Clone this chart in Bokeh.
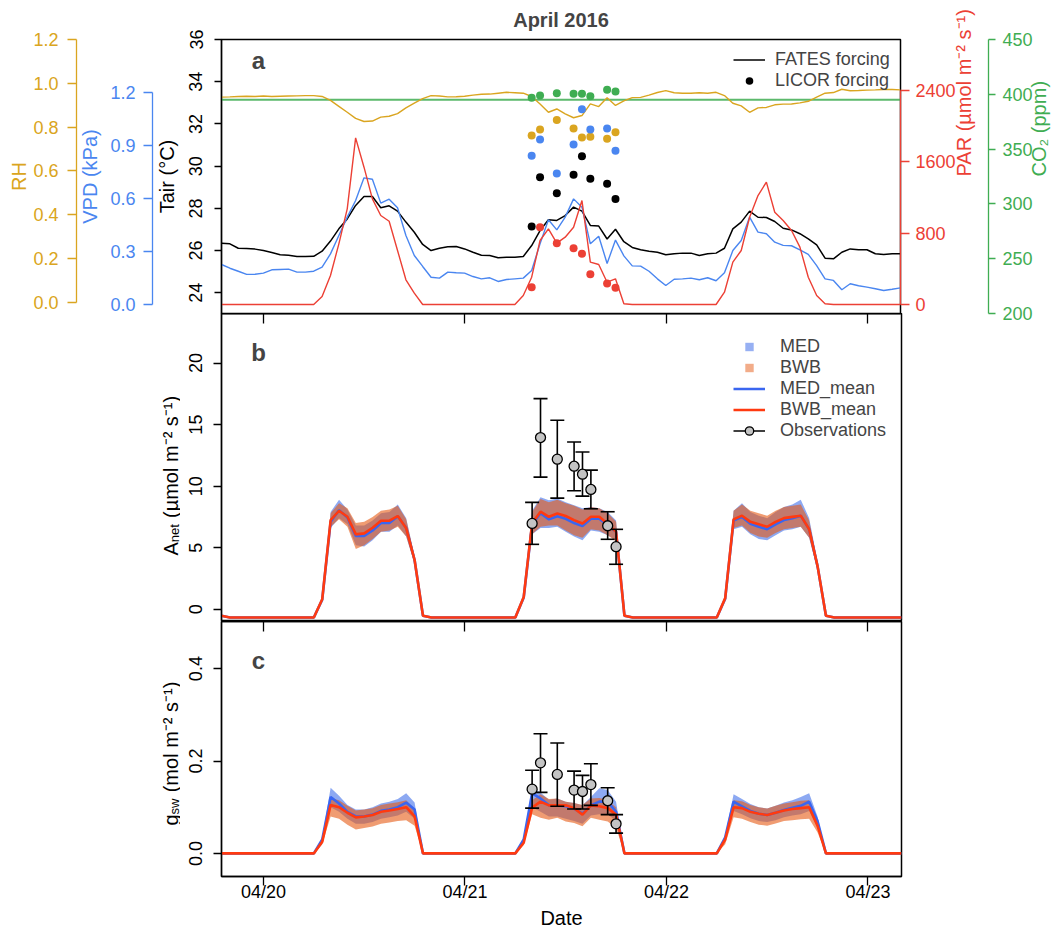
import math
from bokeh.plotting import figure
from bokeh.models import (Range1d, LinearAxis, FixedTicker, Legend, LegendItem, Label,
                          ColumnDataSource, NumeralTickFormatter)
from bokeh.layouts import column, row
from bokeh.embed import file_html
from bokeh.resources import INLINE

FONT = "Liberation Sans"
GOLD = "#daa520"
BLUE = "#4a86f0"
RED = "#ec4035"
GREEN = "#3fad52"
MED_LINE = "#3a66f0"
BWB_LINE = "#ff3a10"
MED_FILL = "#2f62e8"
BWB_FILL = "#e65a14"
NAN = float("nan")

# ---------------- data ----------------
# hours since 2016-04-20 00:00
hours = list(range(-5, 77))
tick_hours = [0, 24, 48, 72]
tick_labels = ["04/20", "04/21", "04/22", "04/23"]

tair = [26.35, 26.32, 26.11, 26.10, 26.07, 26.00, 25.91, 25.80, 25.78, 25.72, 25.72, 25.73,
        25.97, 26.45, 27.03, 27.50, 28.14, 28.56, 28.56, 28.03, 28.12, 27.87, 27.35, 26.87,
        26.29, 26.00, 26.11, 26.18, 26.19, 26.08, 25.92, 25.78, 25.77, 25.66, 25.69, 25.69,
        25.72, 26.24, 26.95, 27.46, 27.43, 27.66, 28.06, 27.87, 27.19, 27.16, 26.55, 27.01,
        26.42, 26.15, 26.04, 25.97, 25.92, 25.80, 25.85, 25.88, 25.88, 25.77, 25.85, 25.88,
        26.11, 27.03, 27.35, 27.87, 27.58, 27.57, 27.38, 27.06, 26.98, 26.80, 26.56, 26.27,
        25.64, 25.61, 25.92, 26.08, 26.04, 26.04, 25.85, 25.82, 25.85, 25.85]
vpd = [0.226, 0.205, 0.188, 0.170, 0.171, 0.177, 0.196, 0.198, 0.200, 0.183, 0.183, 0.188,
       0.211, 0.286, 0.390, 0.494, 0.588, 0.716, 0.708, 0.573, 0.595, 0.547, 0.390, 0.277,
       0.215, 0.154, 0.149, 0.183, 0.179, 0.177, 0.158, 0.145, 0.151, 0.130, 0.141, 0.145,
       0.149, 0.192, 0.343, 0.479, 0.422, 0.494, 0.597, 0.550, 0.343, 0.386, 0.232, 0.364,
       0.275, 0.218, 0.217, 0.188, 0.145, 0.107, 0.143, 0.145, 0.149, 0.140, 0.151, 0.134,
       0.179, 0.305, 0.362, 0.494, 0.409, 0.400, 0.352, 0.334, 0.332, 0.309, 0.283, 0.220,
       0.145, 0.136, 0.083, 0.117, 0.106, 0.098, 0.089, 0.079, 0.086, 0.094]
par = [0, 0, 0, 0, 0, 0, 0, 0, 0, 0, 0, 0,
       90, 325, 680, 1073, 1869, 1540, 1185, 998, 934, 606, 277, 127,
       0, 0, 0, 0, 0, 0, 0, 0, 0, 0, 0, 0,
       101, 306, 718, 849, 688, 755, 867, 1166, 475, 449, 250, 288,
       8, 0, 0, 0, 0, 0, 0, 0, 0, 0, 0, 0,
       138, 475, 606, 979, 1222, 1372, 1035, 942, 830, 643, 306, 101,
       8, 0, 0, 0, 0, 0, 0, 0, 0, 0]
rh = [0.937, 0.938, 0.940, 0.941, 0.940, 0.942, 0.940, 0.941, 0.942, 0.943, 0.944, 0.944,
      0.940, 0.922, 0.895, 0.868, 0.840, 0.826, 0.828, 0.846, 0.850, 0.862, 0.888, 0.910,
      0.930, 0.944, 0.942, 0.938, 0.939, 0.941, 0.946, 0.950, 0.951, 0.955, 0.959, 0.957,
      0.955, 0.940, 0.906, 0.868, 0.883, 0.861, 0.843, 0.853, 0.906, 0.894, 0.934, 0.899,
      0.920, 0.935, 0.936, 0.946, 0.958, 0.967, 0.957, 0.955, 0.955, 0.957, 0.955, 0.959,
      0.944, 0.909, 0.897, 0.868, 0.888, 0.890, 0.902, 0.905, 0.906, 0.911, 0.918, 0.937,
      0.955, 0.958, 0.973, 0.966, 0.967, 0.969, 0.970, 0.972, 0.972, 0.970]
co2 = [395.0, 395.0, 395.0, 395.0, 395.0, 395.0, 395.0, 395.0, 395.0, 395.0, 395.0, 395.0,
       395.0, 395.0, 395.0, 395.0, 395.0, 395.0, 395.0, 395.0, 395.0, 395.0, 395.0, 395.0,
       395.0, 395.0, 395.0, 395.0, 395.0, 395.0, 395.0, 395.0, 395.0, 395.0, 395.0, 395.0,
       395.0, 395.0, 395.0, 395.0, 395.0, 395.0, 395.0, 395.0, 395.0, 395.0, 395.0, 395.0,
       395.0, 395.0, 395.0, 395.0, 395.0, 395.0, 395.0, 395.0, 395.0, 395.0, 395.0, 395.0,
       395.0, 395.0, 395.0, 395.0, 395.0, 395.0, 395.0, 395.0, 395.0, 395.0, 395.0, 395.0,
       395.0, 395.0, 395.0, 395.0, 395.0, 395.0, 395.0, 395.0, 395.0, 395.0]

licor_hours = [32, 33, 35, 37, 38, 39, 41, 42]
licor_tair = [27.14, 29.48, 28.72, 29.59, 30.47, 29.40, 29.17, 28.45]
licor_rh = [0.762, 0.789, 0.833, 0.794, 0.753, 0.756, 0.747, 0.777]
licor_vpd = [0.841, 0.932, 0.741, 0.904, 1.104, 0.989, 0.995, 0.869]
licor_par = [194, 867, 688, 632, 569, 340, 235, 188]
licor_co2 = [396.8, 398.9, 401.0, 400.5, 400.5, 398.3, 404.1, 402.6]

anet_bwb_mean = [-0.54, -0.68, -0.68, -0.68, -0.68, -0.68, -0.68, -0.68, -0.68, -0.68, -0.68, -0.68,
                 0.81, 7.24, 8.00, 7.51, 6.08, 6.16, 6.62, 7.19, 7.19, 7.57, 6.57, 4.00,
                 -0.54, -0.68, -0.68, -0.68, -0.68, -0.68, -0.68, -0.68, -0.68, -0.68, -0.68, -0.68,
                 1.00, 7.00, 7.92, 7.51, 7.78, 7.57, 7.24, 6.97, 7.51, 7.51, 6.92, 6.30,
                 -0.54, -0.68, -0.68, -0.68, -0.68, -0.68, -0.68, -0.68, -0.68, -0.68, -0.68, -0.68,
                 0.90, 7.30, 7.60, 7.10, 6.90, 6.70, 7.10, 7.40, 7.50, 7.60, 6.50, 3.50,
                 -0.54, -0.68, -0.68, -0.68, -0.68, -0.68, -0.68, -0.68, -0.68, -0.68]
anet_bwb_lo = [-0.54, -0.68, -0.68, -0.68, -0.68, -0.68, -0.68, -0.68, -0.68, -0.68, -0.68, -0.68,
               0.70, 6.70, 7.30, 6.70, 4.90, 5.20, 5.70, 6.30, 6.40, 6.70, 5.90, 3.70,
               -0.54, -0.68, -0.68, -0.68, -0.68, -0.68, -0.68, -0.68, -0.68, -0.68, -0.68, -0.68,
               0.90, 6.10, 6.70, 6.80, 6.80, 6.40, 6.00, 5.80, 6.50, 6.40, 6.00, 5.50,
               -0.54, -0.68, -0.68, -0.68, -0.68, -0.68, -0.68, -0.68, -0.68, -0.68, -0.68, -0.68,
               0.80, 6.60, 6.80, 6.20, 5.90, 5.80, 6.20, 6.50, 6.60, 6.70, 5.80, 3.20,
               -0.54, -0.68, -0.68, -0.68, -0.68, -0.68, -0.68, -0.68, -0.68, -0.68]
anet_bwb_hi = [-0.54, -0.68, -0.68, -0.68, -0.68, -0.68, -0.68, -0.68, -0.68, -0.68, -0.68, -0.68,
               0.90, 7.80, 8.60, 8.20, 7.00, 7.10, 7.50, 8.00, 8.10, 8.40, 7.30, 4.30,
               -0.54, -0.68, -0.68, -0.68, -0.68, -0.68, -0.68, -0.68, -0.68, -0.68, -0.68, -0.68,
               1.10, 7.90, 8.95, 8.70, 8.90, 8.60, 8.40, 8.10, 8.30, 8.20, 7.80, 7.10,
               -0.54, -0.68, -0.68, -0.68, -0.68, -0.68, -0.68, -0.68, -0.68, -0.68, -0.68, -0.68,
               1.00, 8.00, 8.50, 8.00, 7.80, 7.60, 8.00, 8.30, 8.40, 8.50, 7.20, 3.80,
               -0.54, -0.68, -0.68, -0.68, -0.68, -0.68, -0.68, -0.68, -0.68, -0.68]
anet_med_mean = [-0.54, -0.68, -0.68, -0.68, -0.68, -0.68, -0.68, -0.68, -0.68, -0.68, -0.68, -0.68,
                 0.78, 7.10, 8.05, 7.45, 5.95, 5.95, 6.40, 7.00, 7.00, 7.55, 6.60, 4.00,
                 -0.54, -0.68, -0.68, -0.68, -0.68, -0.68, -0.68, -0.68, -0.68, -0.68, -0.68, -0.68,
                 0.95, 6.90, 7.80, 7.30, 7.55, 7.35, 7.00, 6.75, 7.35, 7.35, 6.85, 6.30,
                 -0.54, -0.68, -0.68, -0.68, -0.68, -0.68, -0.68, -0.68, -0.68, -0.68, -0.68, -0.68,
                 0.85, 7.20, 7.50, 6.95, 6.70, 6.50, 6.90, 7.25, 7.40, 7.60, 6.50, 3.50,
                 -0.54, -0.68, -0.68, -0.68, -0.68, -0.68, -0.68, -0.68, -0.68, -0.68]
anet_med_lo = [-0.54, -0.68, -0.68, -0.68, -0.68, -0.68, -0.68, -0.68, -0.68, -0.68, -0.68, -0.68,
               0.70, 6.60, 7.40, 6.90, 5.20, 5.10, 5.60, 6.30, 6.30, 6.80, 5.90, 3.70,
               -0.54, -0.68, -0.68, -0.68, -0.68, -0.68, -0.68, -0.68, -0.68, -0.68, -0.68, -0.68,
               0.80, 6.10, 6.60, 6.60, 6.70, 6.30, 5.90, 5.60, 6.40, 6.30, 6.00, 5.60,
               -0.54, -0.68, -0.68, -0.68, -0.68, -0.68, -0.68, -0.68, -0.68, -0.68, -0.68, -0.68,
               0.70, 6.50, 6.70, 6.10, 5.70, 5.60, 6.00, 6.40, 6.50, 6.70, 5.80, 3.10,
               -0.54, -0.68, -0.68, -0.68, -0.68, -0.68, -0.68, -0.68, -0.68, -0.68]
anet_med_hi = [-0.54, -0.68, -0.68, -0.68, -0.68, -0.68, -0.68, -0.68, -0.68, -0.68, -0.68, -0.68,
               0.90, 7.90, 8.90, 8.10, 6.80, 6.80, 7.20, 7.80, 7.90, 8.50, 7.40, 4.30,
               -0.54, -0.68, -0.68, -0.68, -0.68, -0.68, -0.68, -0.68, -0.68, -0.68, -0.68, -0.68,
               1.10, 8.00, 9.10, 8.85, 9.00, 8.70, 8.45, 8.20, 8.30, 8.20, 7.90, 7.20,
               -0.54, -0.68, -0.68, -0.68, -0.68, -0.68, -0.68, -0.68, -0.68, -0.68, -0.68, -0.68,
               1.00, 8.00, 8.60, 7.90, 7.60, 7.40, 7.90, 8.30, 8.50, 8.90, 7.40, 3.90,
               -0.54, -0.68, -0.68, -0.68, -0.68, -0.68, -0.68, -0.68, -0.68, -0.68]

gsw_bwb_mean = [0, 0, 0, 0, 0, 0, 0, 0, 0, 0, 0, 0,
                0.025, 0.105, 0.100, 0.088, 0.078, 0.080, 0.083, 0.090, 0.093, 0.096, 0.100, 0.080,
                0, 0, 0, 0, 0, 0, 0, 0, 0, 0, 0, 0,
                0.023, 0.099, 0.112, 0.104, 0.104, 0.104, 0.098, 0.084, 0.104, 0.102, 0.098, 0.084,
                0, 0, 0, 0, 0, 0, 0, 0, 0, 0, 0, 0,
                0.030, 0.100, 0.098, 0.090, 0.086, 0.083, 0.088, 0.093, 0.096, 0.098, 0.100, 0.060,
                0, 0, 0, 0, 0, 0, 0, 0, 0, 0]
gsw_bwb_lo = [0, 0, 0, 0, 0, 0, 0, 0, 0, 0, 0, 0,
              0.020, 0.080, 0.075, 0.062, 0.052, 0.055, 0.058, 0.064, 0.067, 0.070, 0.072, 0.060,
              0, 0, 0, 0, 0, 0, 0, 0, 0, 0, 0, 0,
              0.018, 0.085, 0.077, 0.073, 0.077, 0.069, 0.066, 0.059, 0.077, 0.073, 0.069, 0.055,
              0, 0, 0, 0, 0, 0, 0, 0, 0, 0, 0, 0,
              0.020, 0.078, 0.075, 0.068, 0.062, 0.060, 0.065, 0.070, 0.072, 0.074, 0.075, 0.045,
              0, 0, 0, 0, 0, 0, 0, 0, 0, 0]
gsw_bwb_hi = [0, 0, 0, 0, 0, 0, 0, 0, 0, 0, 0, 0,
              0.030, 0.120, 0.115, 0.103, 0.093, 0.095, 0.098, 0.105, 0.108, 0.111, 0.115, 0.095,
              0, 0, 0, 0, 0, 0, 0, 0, 0, 0, 0, 0,
              0.028, 0.115, 0.128, 0.118, 0.119, 0.112, 0.109, 0.105, 0.119, 0.120, 0.115, 0.100,
              0, 0, 0, 0, 0, 0, 0, 0, 0, 0, 0, 0,
              0.035, 0.115, 0.113, 0.105, 0.100, 0.097, 0.103, 0.108, 0.111, 0.114, 0.115, 0.070,
              0, 0, 0, 0, 0, 0, 0, 0, 0, 0]
gsw_med_mean = [0, 0, 0, 0, 0, 0, 0, 0, 0, 0, 0, 0,
                0.030, 0.122, 0.108, 0.090, 0.080, 0.080, 0.084, 0.092, 0.095, 0.100, 0.110, 0.095,
                0, 0, 0, 0, 0, 0, 0, 0, 0, 0, 0, 0,
                0.030, 0.130, 0.119, 0.104, 0.104, 0.102, 0.097, 0.086, 0.104, 0.112, 0.112, 0.090,
                0, 0, 0, 0, 0, 0, 0, 0, 0, 0, 0, 0,
                0.035, 0.112, 0.102, 0.092, 0.086, 0.083, 0.088, 0.094, 0.099, 0.103, 0.112, 0.070,
                0, 0, 0, 0, 0, 0, 0, 0, 0, 0]
gsw_med_lo = [0, 0, 0, 0, 0, 0, 0, 0, 0, 0, 0, 0,
              0.020, 0.100, 0.090, 0.075, 0.064, 0.064, 0.068, 0.075, 0.078, 0.082, 0.090, 0.075,
              0, 0, 0, 0, 0, 0, 0, 0, 0, 0, 0, 0,
              0.022, 0.100, 0.090, 0.080, 0.080, 0.075, 0.070, 0.064, 0.082, 0.085, 0.085, 0.070,
              0, 0, 0, 0, 0, 0, 0, 0, 0, 0, 0, 0,
              0.025, 0.092, 0.085, 0.076, 0.070, 0.068, 0.072, 0.078, 0.082, 0.085, 0.092, 0.055,
              0, 0, 0, 0, 0, 0, 0, 0, 0, 0]
gsw_med_hi = [0, 0, 0, 0, 0, 0, 0, 0, 0, 0, 0, 0,
              0.035, 0.142, 0.125, 0.105, 0.095, 0.095, 0.100, 0.108, 0.112, 0.118, 0.130, 0.110,
              0, 0, 0, 0, 0, 0, 0, 0, 0, 0, 0, 0,
              0.035, 0.142, 0.132, 0.116, 0.119, 0.112, 0.109, 0.104, 0.122, 0.141, 0.137, 0.112,
              0, 0, 0, 0, 0, 0, 0, 0, 0, 0, 0, 0,
              0.040, 0.128, 0.118, 0.107, 0.100, 0.097, 0.103, 0.110, 0.115, 0.122, 0.130, 0.080,
              0, 0, 0, 0, 0, 0, 0, 0, 0, 0]

obs_hours = [32, 33, 35, 37, 38, 39, 41, 42]
anet_obs = [6.97, 13.95, 12.19, 11.62, 10.97, 9.73, 6.78, 5.08]
anet_obs_lo = [5.27, 10.73, 9.03, 9.62, 9.19, 8.16, 5.68, 3.65]
anet_obs_hi = [8.68, 17.11, 15.35, 13.59, 12.78, 11.30, 7.92, 6.49]
gsw_obs = [0.139, 0.196, 0.171, 0.137, 0.134, 0.149, 0.114, 0.064]
gsw_obs_lo = [0.098, 0.132, 0.102, 0.096, 0.096, 0.104, 0.084, 0.044]
gsw_obs_hi = [0.180, 0.259, 0.239, 0.178, 0.169, 0.194, 0.142, 0.084]


# ---------------- helpers ----------------
def style_axis(ax, color="black", tick_out=8, label_standoff=7, title_standoff=8,
               orient="horizontal", label_size="18px", title_size="20px"):
    ax.axis_line_color = color
    ax.axis_line_width = 1.3
    ax.major_tick_line_color = color
    ax.major_tick_line_width = 1.3
    ax.major_tick_out = tick_out
    ax.major_tick_in = 0
    ax.minor_tick_line_color = None
    ax.minor_tick_out = 0
    ax.minor_tick_in = 0
    ax.major_label_text_color = color
    ax.major_label_text_font = FONT
    ax.major_label_text_font_size = label_size
    ax.major_label_standoff = label_standoff
    ax.major_label_orientation = orient
    ax.axis_label_text_color = color
    ax.axis_label_text_font = FONT
    ax.axis_label_text_font_size = title_size
    ax.axis_label_text_font_style = "normal"
    ax.axis_label_standoff = title_standoff


def base_fig(width, height, y_range, left, top=0, bottom=0, xloc=None, title=None):
    p = figure(width=width, height=height, x_range=xr, y_range=y_range,
               output_backend="svg", toolbar_location=None, x_axis_location=xloc,
               title=title,
               min_border_left=left, min_border_right=162,
               min_border_top=top, min_border_bottom=bottom)
    p.grid.visible = False
    p.outline_line_color = "black"
    p.outline_line_width = 1.5
    p.outline_line_alpha = 1.0
    return p


def title_fig(height):
    t = figure(width=180, height=height, output_backend="svg", toolbar_location=None,
               x_axis_location=None, y_axis_location=None,
               min_border_left=0, min_border_right=0, min_border_top=0, min_border_bottom=0)
    t.grid.visible = False
    t.outline_line_color = None
    t.background_fill_alpha = 0
    t.border_fill_alpha = 0
    return t


def tick_only_above(p):
    ax = LinearAxis(ticker=FixedTicker(ticks=tick_hours))
    ax.major_tick_in = 10
    ax.major_tick_out = 0
    ax.minor_tick_in = 0
    ax.minor_tick_out = 0
    ax.major_tick_line_width = 1.3
    ax.major_label_text_font_size = "0px"
    ax.major_label_standoff = 0
    ax.major_label_text_alpha = 0
    ax.axis_line_color = "black"
    ax.axis_line_width = 1.5
    p.add_layout(ax, "above")


def panel_letter(p, text, y):
    p.add_layout(Label(x=37, y=y, x_units="screen", y_units="screen", text=text,
                       text_font=FONT, text_font_size="24px", text_font_style="bold",
                       text_align="center", text_baseline="middle"))


def rotated_title(p, pieces, x0, y0):
    # pieces: (text, size_px, dx, advance) laid out bottom-to-top
    y = y0
    for text, size, dx, adv in pieces:
        p.add_layout(Label(x=x0 + dx, y=y, x_units="screen", y_units="screen", text=text,
                           angle=math.pi / 2, text_font=FONT, text_font_size=f"{size}px",
                           text_align="left", text_baseline="alphabetic", text_color="black"))
        y += adv


xr = Range1d(-5, 76)

# ---------------- panel a ----------------
pa = base_fig(1063, 323, Range1d(23.02, 36.0), 221, top=39, bottom=10, title="April 2016")
pa.margin = (0, 0, -10, 0)
pa.title.align = "center"
pa.title.vertical_align = "top"
pa.title.text_font = FONT
pa.title.text_font_size = "20px"
pa.title.text_font_style = "bold"
pa.title.standoff = 14
pa.extra_y_ranges = {"vpd": Range1d(-0.051, 1.498), "rh": Range1d(-0.0502, 1.2),
                     "par": Range1d(-100.9, 2972.0), "co2": Range1d(200, 450)}

src_f = ColumnDataSource(dict(h=hours, tair=tair, rh=rh, vpd=vpd, par=par, co2=co2))
src_l = ColumnDataSource(dict(h=licor_hours, tair=licor_tair, rh=licor_rh, vpd=licor_vpd,
                              par=licor_par, co2=licor_co2))

pa.line("h", "co2", source=src_f, y_range_name="co2", line_color=GREEN, line_width=2, line_alpha=0.85)
pa.line("h", "rh", source=src_f, y_range_name="rh", line_color=GOLD, line_width=1.4)
r_tair = pa.line("h", "tair", source=src_f, line_color="black", line_width=1.5)
pa.line("h", "vpd", source=src_f, y_range_name="vpd", line_color=BLUE, line_width=1.4)
pa.line("h", "par", source=src_f, y_range_name="par", line_color=RED, line_width=1.4)

pa.scatter("h", "co2", source=src_l, y_range_name="co2", size=8, fill_color=GREEN, line_color=None)
pa.scatter("h", "rh", source=src_l, y_range_name="rh", size=8, fill_color=GOLD, line_color=None)
pa.scatter("h", "vpd", source=src_l, y_range_name="vpd", size=8, fill_color=BLUE, line_color=None)
r_ltair = pa.scatter("h", "tair", source=src_l, size=8, fill_color="black", line_color=None)
pa.scatter("h", "par", source=src_l, y_range_name="par", size=8, fill_color=RED, line_color=None)

ya = pa.yaxis[0]
ya.ticker = FixedTicker(ticks=[24, 26, 28, 30, 32, 34, 36])
ya.axis_label = "Tair (°C)"
style_axis(ya, "black", tick_out=7, label_standoff=12, title_standoff=9, orient="vertical")

ax_vpd = LinearAxis(y_range_name="vpd", bounds=(0, 1.2),
                    ticker=FixedTicker(ticks=[0, 0.3, 0.6, 0.9, 1.2]),
                    formatter=NumeralTickFormatter(format="0.0"), axis_label="VPD (kPa)")
style_axis(ax_vpd, BLUE, tick_out=9, label_standoff=8, title_standoff=6)
pa.add_layout(ax_vpd, "left")

ax_rh = LinearAxis(y_range_name="rh", bounds=(0, 1.2),
                   ticker=FixedTicker(ticks=[0, 0.2, 0.4, 0.6, 0.8, 1.0, 1.2]),
                   formatter=NumeralTickFormatter(format="0.0"), axis_label="RH")
style_axis(ax_rh, GOLD, tick_out=9, label_standoff=9, title_standoff=0)
pa.add_layout(ax_rh, "left")

ax_par = LinearAxis(y_range_name="par", bounds=(0, 2400),
                    ticker=FixedTicker(ticks=[0, 800, 1600, 2400]),
                    axis_label="PAR (µmol m⁻² s⁻¹)")
style_axis(ax_par, RED, tick_out=9, label_standoff=6, title_standoff=5)
ax_par.axis_label_orientation = math.pi / 2
pa.add_layout(ax_par, "right")

ax_co2 = LinearAxis(y_range_name="co2", bounds=(200, 450),
                    ticker=FixedTicker(ticks=[200, 250, 300, 350, 400, 450]),
                    axis_label="CO₂ (ppm)")
style_axis(ax_co2, GREEN, tick_out=7, label_standoff=7, title_standoff=3)
ax_co2.axis_label_orientation = math.pi / 2
pa.add_layout(ax_co2, "right")

leg_a = Legend(items=[LegendItem(label="FATES forcing", renderers=[r_tair]),
                      LegendItem(label="LICOR forcing", renderers=[r_ltair])],
               location=(512, 222), label_text_font=FONT, label_text_font_size="18px",
               glyph_width=32, glyph_height=19, label_height=19, label_standoff=10,
               spacing=0, padding=0, margin=0, border_line_alpha=0, background_fill_alpha=0)
pa.add_layout(leg_a)
panel_letter(pa, "a", 253)


# ---------------- panels b, c ----------------
def model_panel(p, med_mean, med_lo, med_hi, bwb_mean, bwb_lo, bwb_hi, obs, obs_lo, obs_hi, cap):
    src = ColumnDataSource(dict(h=hours, mm=med_mean, ml=med_lo, mh=med_hi,
                                bm=bwb_mean, bl=bwb_lo, bh=bwb_hi))
    so = ColumnDataSource(dict(h=obs_hours, v=obs, lo=obs_lo, hi=obs_hi))
    p.varea("h", "ml", "mh", source=src, fill_color=MED_FILL, fill_alpha=0.55)
    p.varea("h", "bl", "bh", source=src, fill_color=BWB_FILL, fill_alpha=0.6)
    r_mm = p.line("h", "mm", source=src, line_color=MED_LINE, line_width=2.6)
    r_bm = p.line("h", "bm", source=src, line_color=BWB_LINE, line_width=2.6)
    r_seg = p.segment(x0="h", y0="lo", x1="h", y1="hi", source=so, line_color="black", line_width=1.6)
    p.scatter("h", "lo", source=so, marker="dash", size=cap, line_color="black", line_width=1.6)
    p.scatter("h", "hi", source=so, marker="dash", size=cap, line_color="black", line_width=1.6)
    r_obs = p.scatter("h", "v", source=so, size=10, fill_color="#c4c4c4", line_color="black",
                      line_width=1.3)
    # legend-only proxies (never drawn in the plot area)
    r_med_sq = p.scatter(x=[NAN], y=[NAN], marker="square", size=9, fill_color=MED_FILL,
                         fill_alpha=0.5, line_color=None)
    r_bwb_sq = p.scatter(x=[NAN], y=[NAN], marker="square", size=9, fill_color=BWB_FILL,
                         fill_alpha=0.5, line_color=None)
    return r_med_sq, r_bwb_sq, r_mm, r_bm, r_seg, r_obs


pb = base_fig(883, 308, Range1d(-1.0, 24.03), 41, top=0, bottom=0)
pb.background_fill_alpha = 0
pb.border_fill_alpha = 0
rs = model_panel(pb, anet_med_mean, anet_med_lo, anet_med_hi, anet_bwb_mean, anet_bwb_lo,
                 anet_bwb_hi, anet_obs, anet_obs_lo, anet_obs_hi, 14)
yb = pb.yaxis[0]
yb.ticker = FixedTicker(ticks=[0, 5, 10, 15, 20])
style_axis(yb, "black", tick_out=8, label_standoff=11, orient="vertical")
tick_only_above(pb)
leg_b = Legend(items=[LegendItem(label="MED", renderers=[rs[0]]),
                      LegendItem(label="BWB", renderers=[rs[1]]),
                      LegendItem(label="MED_mean", renderers=[rs[2]]),
                      LegendItem(label="BWB_mean", renderers=[rs[3]]),
                      LegendItem(label="Observations", renderers=[rs[4], rs[5]])],
               location=(512, 180.5), label_text_font=FONT, label_text_font_size="18px",
               glyph_width=32, glyph_height=21, label_height=21, label_standoff=15,
               spacing=0, padding=0, margin=0, border_line_alpha=0, background_fill_alpha=0)
pb.add_layout(leg_b)
panel_letter(pb, "b", 269)

tb = title_fig(308)
rotated_title(tb, [("A", 20, 0, 13.3), ("net", 13, 3.5, 24.2),
                   ("(µmol m⁻² s⁻¹)", 20, 0, 0)], 170, 66)

pc = base_fig(883, 310, Range1d(-0.05, 0.502), 41, top=0, bottom=52, xloc="below")
rs_c = model_panel(pc, gsw_med_mean, gsw_med_lo, gsw_med_hi, gsw_bwb_mean, gsw_bwb_lo,
                   gsw_bwb_hi, gsw_obs, gsw_obs_lo, gsw_obs_hi, 14)
yc = pc.yaxis[0]
yc.ticker = FixedTicker(ticks=[0, 0.2, 0.4])
yc.formatter = NumeralTickFormatter(format="0.0")
style_axis(yc, "black", tick_out=8, label_standoff=11, orient="vertical")
xc = pc.xaxis[0]
xc.ticker = FixedTicker(ticks=tick_hours)
xc.major_label_overrides = dict(zip(tick_hours, tick_labels))
xc.axis_label = "Date"
style_axis(xc, "black", tick_out=9, label_standoff=-4, title_standoff=2)
tick_only_above(pc)
panel_letter(pc, "c", 216)

tc = title_fig(310)
rotated_title(tc, [("g", 20, 0, 11.1), ("sw", 13, 3.5, 22.1),
                   ("(mol m⁻² s⁻¹)", 20, 0, 0)], 170, 51)

layout = column(pa, row(tb, pb), row(tc, pc))
open("out.html", "w").write(file_html(layout, INLINE))
